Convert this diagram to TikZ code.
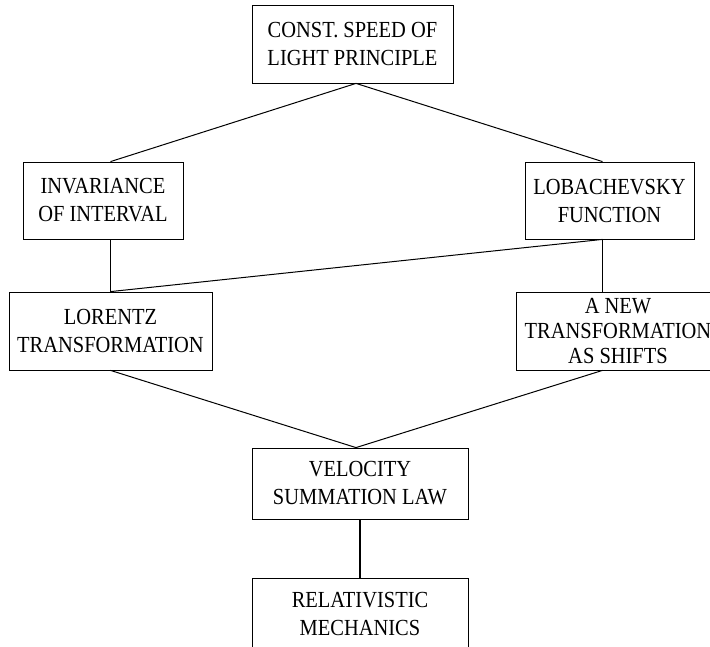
\documentclass[tikz,border=0pt]{standalone}
\usepackage{fontspec}
\setmainfont{Liberation Serif}[FakeStretch=0.89]
\tikzset{
	% boxes of the chart and the plain links between them
	concept node/.style={rectangle, draw, line width=0.8pt, align=center, inner sep=0,
		font=\fontsize{23}{28}\selectfont},
	link/.style={line width=1pt},
	stem link/.style={line width=1.6pt}
}

\begin{document}
\begin{tikzpicture}[x=1pt, y=-1pt]

  \useasboundingbox (0,0) rectangle (710,647);
  \clip (0,0) rectangle (710,647);

  %% columns where the links meet the boxes
  \coordinate(lcol) at (110.5, 0);
  \coordinate(ccol) at (356, 0);
  \coordinate(rcol) at (602.5, 0);

  \node(light) at (352.5, 44) [concept node, minimum width=201, minimum height=78]{CONST. SPEED OF\\LIGHT PRINCIPLE};

  \node(inv) at (103, 200.5) [concept node, minimum width=160, minimum height=77]{INVARIANCE\\OF INTERVAL};
  \node(lob) at (609.5, 200.5) [concept node, minimum width=169, minimum height=77]{LOBACHEVSKY\\FUNCTION};

  \node(lor) at (110.5, 331) [concept node, minimum width=203, minimum height=78]{LORENTZ\\TRANSFORMATION};
  \node(shift) at (618, 331) [concept node, minimum width=204, minimum height=78,
    font=\fontsize{23}{25}\selectfont]{A NEW\\TRANSFORMATION\\AS SHIFTS};

  \node(vel) at (360, 483.5) [concept node, minimum width=216, minimum height=71]{VELOCITY\\SUMMATION LAW};
  \node(mech) at (360, 613.5) [concept node, minimum width=216, minimum height=71]{RELATIVISTIC\\MECHANICS};

  \path[link] (light.south -| ccol) edge (inv.north -| lcol);
  \path[link] (light.south -| ccol) edge (lob.north -| rcol);
  \path[stem link] (inv.south -| lcol) edge (lor.north -| lcol);
  \path[link] (lob.south -| rcol) edge (lor.north -| lcol);
  \path[stem link] (lob.south -| rcol) edge (shift.north -| rcol);
  \path[link] (lor.south -| lcol) edge (vel.north -| ccol);
  \path[link] (shift.south -| rcol) edge (vel.north -| ccol);
  \path[stem link] (vel.south) edge (mech.north);

\end{tikzpicture}
\end{document}
